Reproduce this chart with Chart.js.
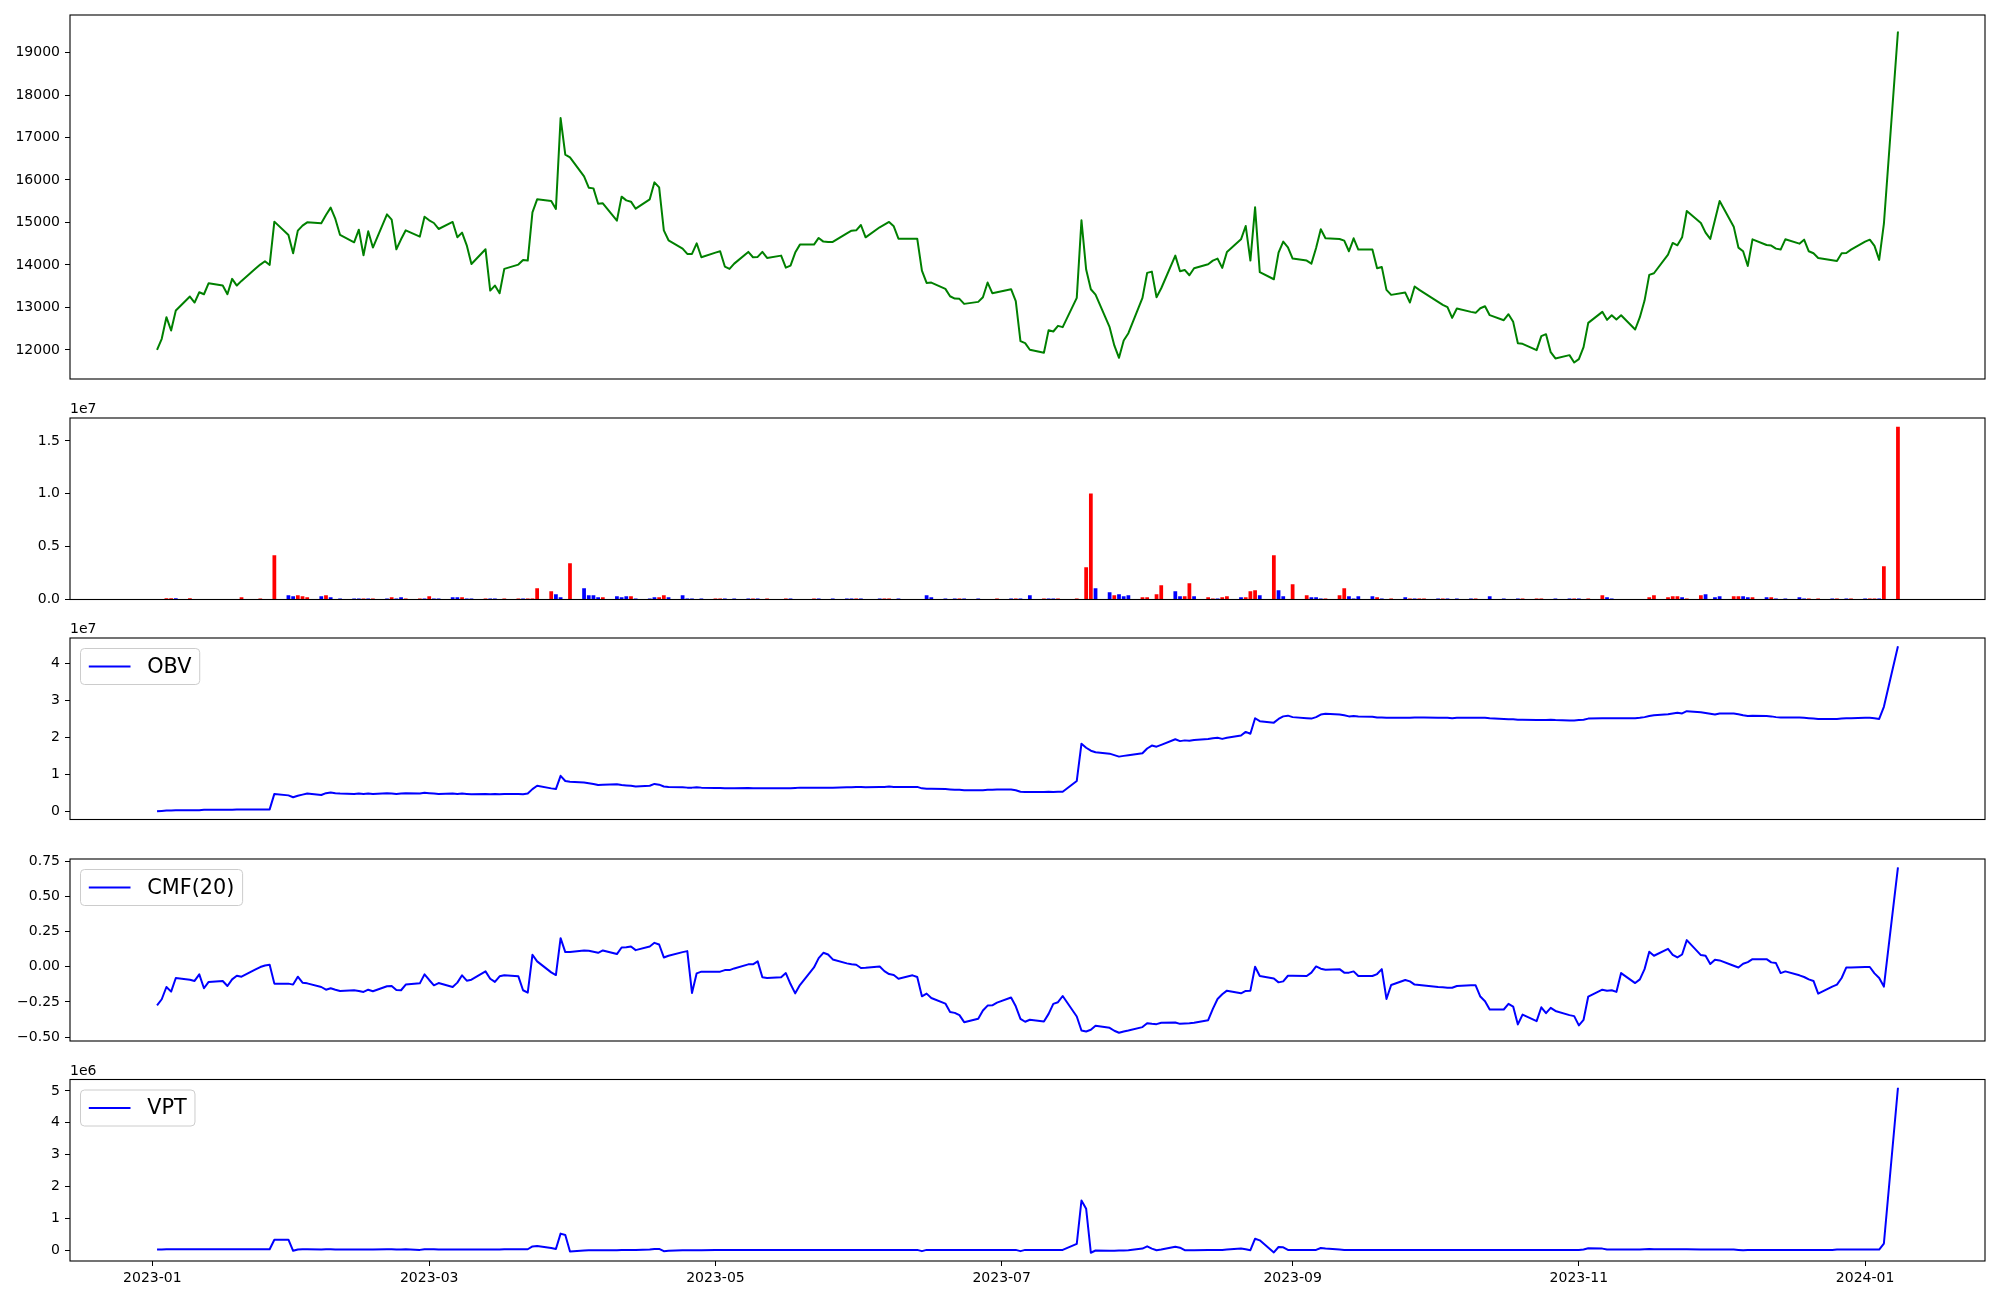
<!DOCTYPE html>
<html><head><meta charset="utf-8">
<script src="https://cdn.jsdelivr.net/npm/chart.js@4.4.1/dist/chart.umd.min.js"></script>
<style>
html,body{margin:0;padding:0;background:#fff;width:2000px;height:1300px;overflow:hidden;position:relative}
canvas{display:block}
</style></head><body>
<canvas id="c1"></canvas><canvas id="c2"></canvas><canvas id="c3"></canvas><canvas id="c4"></canvas><canvas id="c5"></canvas>
<script>
const dates = [
"2023-01-02","2023-01-03","2023-01-04","2023-01-05","2023-01-06","2023-01-09","2023-01-10","2023-01-11","2023-01-12","2023-01-13","2023-01-16","2023-01-17","2023-01-18","2023-01-19","2023-01-20","2023-01-23","2023-01-24","2023-01-25","2023-01-26","2023-01-27","2023-01-30","2023-01-31",
"2023-02-01","2023-02-02","2023-02-03","2023-02-06","2023-02-07","2023-02-08","2023-02-09","2023-02-10","2023-02-13","2023-02-14","2023-02-15","2023-02-16","2023-02-17","2023-02-20","2023-02-21","2023-02-22","2023-02-23","2023-02-24","2023-02-27","2023-02-28",
"2023-03-01","2023-03-02","2023-03-03","2023-03-06","2023-03-07","2023-03-08","2023-03-09","2023-03-10","2023-03-13","2023-03-14","2023-03-15","2023-03-16","2023-03-17","2023-03-20","2023-03-21","2023-03-22","2023-03-23","2023-03-24","2023-03-27","2023-03-28","2023-03-29","2023-03-30","2023-03-31",
"2023-04-03","2023-04-04","2023-04-05","2023-04-06","2023-04-07","2023-04-10","2023-04-11","2023-04-12","2023-04-13","2023-04-14","2023-04-17","2023-04-18","2023-04-19","2023-04-20","2023-04-21","2023-04-24","2023-04-25","2023-04-26","2023-04-27","2023-04-28",
"2023-05-01","2023-05-02","2023-05-03","2023-05-04","2023-05-05","2023-05-08","2023-05-09","2023-05-10","2023-05-11","2023-05-12","2023-05-15","2023-05-16","2023-05-17","2023-05-18","2023-05-19","2023-05-22","2023-05-23","2023-05-24","2023-05-25","2023-05-26","2023-05-29","2023-05-30","2023-05-31",
"2023-06-01","2023-06-02","2023-06-05","2023-06-06","2023-06-07","2023-06-08","2023-06-09","2023-06-12","2023-06-13","2023-06-14","2023-06-15","2023-06-16","2023-06-19","2023-06-20","2023-06-21","2023-06-22","2023-06-23","2023-06-26","2023-06-27","2023-06-28","2023-06-29","2023-06-30",
"2023-07-03","2023-07-04","2023-07-05","2023-07-06","2023-07-07","2023-07-10","2023-07-11","2023-07-12","2023-07-13","2023-07-14","2023-07-17","2023-07-18","2023-07-19","2023-07-20","2023-07-21","2023-07-24","2023-07-25","2023-07-26","2023-07-27","2023-07-28","2023-07-31",
"2023-08-01","2023-08-02","2023-08-03","2023-08-04","2023-08-07","2023-08-08","2023-08-09","2023-08-10","2023-08-11","2023-08-14","2023-08-15","2023-08-16","2023-08-17","2023-08-18","2023-08-21","2023-08-22","2023-08-23","2023-08-24","2023-08-25","2023-08-28","2023-08-29","2023-08-30","2023-08-31",
"2023-09-01","2023-09-04","2023-09-05","2023-09-06","2023-09-07","2023-09-08","2023-09-11","2023-09-12","2023-09-13","2023-09-14","2023-09-15","2023-09-18","2023-09-19","2023-09-20","2023-09-21","2023-09-22","2023-09-25","2023-09-26","2023-09-27","2023-09-28","2023-09-29",
"2023-10-02","2023-10-03","2023-10-04","2023-10-05","2023-10-06","2023-10-09","2023-10-10","2023-10-11","2023-10-12","2023-10-13","2023-10-16","2023-10-17","2023-10-18","2023-10-19","2023-10-20","2023-10-23","2023-10-24","2023-10-25","2023-10-26","2023-10-27","2023-10-30","2023-10-31",
"2023-11-01","2023-11-02","2023-11-03","2023-11-06","2023-11-07","2023-11-08","2023-11-09","2023-11-10","2023-11-13","2023-11-14","2023-11-15","2023-11-16","2023-11-17","2023-11-20","2023-11-21","2023-11-22","2023-11-23","2023-11-24","2023-11-27","2023-11-28","2023-11-29","2023-11-30",
"2023-12-01","2023-12-04","2023-12-05","2023-12-06","2023-12-07","2023-12-08","2023-12-11","2023-12-12","2023-12-13","2023-12-14","2023-12-15","2023-12-18","2023-12-19","2023-12-20","2023-12-21","2023-12-22","2023-12-25","2023-12-26","2023-12-27","2023-12-28","2023-12-29",
"2024-01-01","2024-01-02","2024-01-03","2024-01-04","2024-01-05","2024-01-08"];

const price = [
12000,12260,12770,12456,12926,13256,13114,13357,13310,13569,13514,13310,13671,13514,13624,13914,14008,14086,14000,15019,14705,14274,
14807,14925,15003,14980,15176,15348,15082,14705,14533,14830,14227,14791,14408,15190,15066,14368,14603,14815,14666,15136,
15050,14987,14846,15011,14650,14760,14462,14023,14368,13396,13514,13334,13906,14008,14117,14102,15238,15544,15505,15317,17456,16594,16531,
16085,15818,15802,15442,15450,15042,15607,15520,15489,15324,15544,15944,15826,14815,14580,14384,14259,14259,14509,14180,
14290,14321,13961,13906,14031,14306,14180,14188,14306,14165,14219,13937,13984,14290,14478,14478,14635,14549,14541,14541,14745,14807,14815,
14940,14650,14886,14948,15011,14909,14619,14619,14619,13867,13577,13585,13436,13263,13208,13201,13083,13130,13240,13585,13334,13357,
13428,13146,12205,12158,12002,11931,12464,12433,12566,12535,13224,15050,13890,13428,13302,12535,12104,11814,12221,12393,13224,
13812,13843,13240,13451,14219,13851,13882,13757,13922,14016,14102,14149,13930,14306,14603,14917,14102,15356,13828,13663,14290,14549,14415,
14149,14102,14031,14400,14839,14627,14611,14572,14322,14627,14361,14361,13922,13953,13412,13295,13349,13114,13491,13412,13342,
13130,13060,13005,12754,12973,12895,12872,12981,13028,12817,12699,12840,12660,12158,12142,11994,12323,12370,11947,11798,11876,11704,
11782,12064,12636,12895,12707,12816,12715,12816,12480,12770,13161,13765,13804,14243,14517,14462,14650,15270,14987,14760,14611,15058,
15505,14901,14408,14321,13976,14603,14470,14455,14384,14361,14603,14501,14595,14321,14274,14165,14110,14094,14274,14282,14361,
14549,14595,14447,14118,14964,19494];

// volume per date (shares) and bar direction (1 = red/up, 0 = blue/down)
const volume = [
0,0,0.12e6,0.12e6,0.12e6,0.12e6,0,0,0,0,0,0,0,0,0.22e6,0,0.1e6,0,0,4.18e6,0.41e6,0.31e6,
0.41e6,0.31e6,0.22e6,0.31e6,0.41e6,0.22e6,0,0.1e6,0.1e6,0.1e6,0.1e6,0.1e6,0.1e6,0.1e6,0.22e6,0.1e6,0.22e6,0.1e6,0.1e6,0.1e6,
0.31e6,0.1e6,0.1e6,0.22e6,0.22e6,0.22e6,0.1e6,0.1e6,0.1e6,0.1e6,0.1e6,0,0.1e6,0.1e6,0.1e6,0.1e6,0.1e6,1.07e6,0.79e6,0.5e6,0.22e6,0,3.43e6,
1.07e6,0.41e6,0.41e6,0.22e6,0.22e6,0.31e6,0.22e6,0.31e6,0.31e6,0.1e6,0.1e6,0.22e6,0.22e6,0.41e6,0.22e6,0.41e6,0.1e6,0.1e6,0,0.1e6,
0.1e6,0.1e6,0.1e6,0,0.1e6,0.1e6,0.1e6,0.1e6,0,0.1e6,0,0.1e6,0.1e6,0,0,0.1e6,0.1e6,0,0,0.1e6,0.1e6,0.1e6,0.1e6,
0.1e6,0,0.1e6,0.1e6,0.1e6,0,0.1e6,0,0,0,0.41e6,0.22e6,0.1e6,0,0.1e6,0.1e6,0.1e6,0.1e6,0,0,0,0.1e6,
0.1e6,0.1e6,0.1e6,0,0.41e6,0.1e6,0.1e6,0.1e6,0.1e6,0,0.1e6,0,3.05e6,10.03e6,1.07e6,0.69e6,0.41e6,0.5e6,0.31e6,0.41e6,0.22e6,
0.22e6,0,0.5e6,1.35e6,0.79e6,0.31e6,0.31e6,1.54e6,0.31e6,0.22e6,0.1e6,0.1e6,0.22e6,0.31e6,0.22e6,0.22e6,0.79e6,0.88e6,0.41e6,4.18e6,0.88e6,0.31e6,0,
1.45e6,0.41e6,0.22e6,0.22e6,0.1e6,0.1e6,0.41e6,1.07e6,0.31e6,0.1e6,0.31e6,0.31e6,0.22e6,0.1e6,0,0.1e6,0.22e6,0.1e6,0.1e6,0.1e6,0.1e6,
0.1e6,0.1e6,0.1e6,0,0.1e6,0.1e6,0.1e6,0,0,0.31e6,0.1e6,0,0,0.1e6,0.1e6,0.1e6,0.1e6,0,0,0.1e6,0.1e6,0.1e6,
0.1e6,0,0.1e6,0.41e6,0.22e6,0.1e6,0,0,0,0,0,0.22e6,0.41e6,0.22e6,0.31e6,0.31e6,0.22e6,0.1e6,0.41e6,0.5e6,0,0.22e6,
0.31e6,0.31e6,0.31e6,0.31e6,0.22e6,0.22e6,0.22e6,0.22e6,0.1e6,0,0.1e6,0.22e6,0.1e6,0.1e6,0,0.1e6,0.1e6,0.1e6,0,0.1e6,0.1e6,
0.1e6,0.1e6,0.1e6,0.1e6,3.15e6,16.35e6];
const volUp = [
1,1,1,1,0,1,1,1,1,1,1,1,1,1,1,1,1,1,1,1,0,0,
1,1,1,0,1,0,0,0,0,0,1,0,1,0,1,0,0,1,1,0,
1,0,0,0,0,1,0,0,1,0,0,1,1,1,0,1,1,1,1,0,0,1,1,
0,0,0,0,1,0,0,0,1,0,0,0,1,1,0,0,0,0,1,0,
1,1,0,1,0,0,1,0,1,1,1,1,0,1,1,1,0,1,1,0,0,0,1,
0,1,0,1,1,1,0,1,1,1,0,0,0,1,0,1,0,0,1,1,1,1,
0,1,0,1,0,1,0,0,1,1,1,1,1,1,0,0,1,0,0,0,1,
1,1,1,1,0,0,1,1,0,1,1,0,1,1,0,1,1,1,0,1,0,0,1,
1,1,0,0,0,1,1,1,0,0,0,0,1,0,1,1,0,1,0,1,1,
0,1,0,1,0,0,1,1,1,0,0,1,1,0,1,1,1,1,1,0,0,1,
0,1,1,1,0,0,1,1,1,1,1,1,1,1,1,1,0,1,1,0,1,0,
0,1,1,0,0,1,0,1,0,1,0,0,0,1,1,1,0,1,1,0,1,
0,1,1,0,1,1];

const obv = [
0.00e7,0.01e7,0.02e7,0.02e7,0.03e7,0.03e7,0.03e7,0.03e7,0.04e7,0.04e7,0.04e7,0.04e7,0.04e7,0.05e7,0.05e7,0.05e7,0.05e7,0.05e7,0.05e7,0.47e7,0.43e7,0.38e7,
0.42e7,0.45e7,0.48e7,0.44e7,0.49e7,0.51e7,0.49e7,0.48e7,0.47e7,0.48e7,0.47e7,0.48e7,0.47e7,0.49e7,0.48e7,0.47e7,0.48e7,0.49e7,0.48e7,0.50e7,
0.49e7,0.48e7,0.47e7,0.48e7,0.47e7,0.48e7,0.47e7,0.46e7,0.47e7,0.46e7,0.47e7,0.46e7,0.47e7,0.47e7,0.46e7,0.48e7,0.60e7,0.69e7,0.62e7,0.60e7,0.96e7,0.82e7,0.80e7,
0.78e7,0.76e7,0.74e7,0.71e7,0.72e7,0.73e7,0.71e7,0.70e7,0.69e7,0.67e7,0.69e7,0.74e7,0.72e7,0.67e7,0.66e7,0.65e7,0.64e7,0.64e7,0.65e7,0.64e7,
0.63e7,0.63e7,0.62e7,0.62e7,0.62e7,0.63e7,0.62e7,0.62e7,0.62e7,0.62e7,0.62e7,0.62e7,0.62e7,0.63e7,0.64e7,0.64e7,0.64e7,0.64e7,0.64e7,0.64e7,0.65e7,0.65e7,0.66e7,
0.66e7,0.65e7,0.66e7,0.66e7,0.67e7,0.66e7,0.66e7,0.66e7,0.66e7,0.62e7,0.61e7,0.61e7,0.60e7,0.59e7,0.58e7,0.58e7,0.57e7,0.57e7,0.57e7,0.58e7,0.58e7,0.59e7,
0.59e7,0.57e7,0.53e7,0.52e7,0.52e7,0.52e7,0.53e7,0.52e7,0.53e7,0.53e7,0.82e7,1.83e7,1.72e7,1.64e7,1.60e7,1.56e7,1.52e7,1.48e7,1.50e7,1.52e7,1.57e7,
1.70e7,1.78e7,1.75e7,1.80e7,1.95e7,1.90e7,1.92e7,1.91e7,1.93e7,1.96e7,1.98e7,1.99e7,1.96e7,1.99e7,2.05e7,2.15e7,2.10e7,2.52e7,2.44e7,2.40e7,2.50e7,2.57e7,2.59e7,
2.55e7,2.52e7,2.51e7,2.55e7,2.62e7,2.64e7,2.62e7,2.60e7,2.57e7,2.58e7,2.57e7,2.56e7,2.54e7,2.54e7,2.53e7,2.53e7,2.53e7,2.53e7,2.54e7,2.54e7,2.54e7,
2.53e7,2.53e7,2.53e7,2.52e7,2.53e7,2.53e7,2.53e7,2.53e7,2.53e7,2.52e7,2.50e7,2.49e7,2.49e7,2.48e7,2.48e7,2.47e7,2.47e7,2.47e7,2.48e7,2.47e7,2.46e7,2.46e7,
2.47e7,2.48e7,2.51e7,2.52e7,2.52e7,2.52e7,2.52e7,2.52e7,2.52e7,2.53e7,2.55e7,2.58e7,2.60e7,2.63e7,2.65e7,2.67e7,2.65e7,2.71e7,2.68e7,2.66e7,2.64e7,2.62e7,
2.65e7,2.65e7,2.63e7,2.60e7,2.58e7,2.59e7,2.58e7,2.57e7,2.55e7,2.54e7,2.54e7,2.54e7,2.53e7,2.52e7,2.51e7,2.50e7,2.50e7,2.50e7,2.51e7,2.52e7,2.52e7,
2.53e7,2.53e7,2.52e7,2.50e7,2.83e7,4.47e7];

const cmf = [
-0.274,-0.231,-0.144,-0.177,-0.080,-0.092,-0.101,-0.054,-0.153,-0.108,-0.101,-0.137,-0.090,-0.064,-0.071,-0.019,-0.002,0.009,0.014,-0.120,-0.120,-0.127,
-0.071,-0.113,-0.118,-0.144,-0.163,-0.153,-0.163,-0.172,-0.167,-0.172,-0.179,-0.163,-0.174,-0.139,-0.137,-0.165,-0.167,-0.127,-0.118,-0.054,
-0.094,-0.132,-0.116,-0.144,-0.113,-0.061,-0.099,-0.092,-0.033,-0.085,-0.108,-0.068,-0.061,-0.068,-0.167,-0.184,0.085,0.038,-0.040,-0.059,0.203,0.104,0.104,
0.116,0.113,0.106,0.099,0.116,0.090,0.137,0.139,0.144,0.118,0.144,0.170,0.158,0.066,0.078,0.104,0.111,-0.186,-0.047,-0.035,
-0.035,-0.035,-0.024,-0.024,-0.012,0.017,0.017,0.038,-0.075,-0.080,-0.075,-0.045,-0.123,-0.189,-0.130,-0.005,0.061,0.099,0.087,0.052,0.024,0.017,0.014,
-0.009,-0.007,0.002,-0.031,-0.052,-0.059,-0.085,-0.061,-0.073,-0.210,-0.191,-0.222,-0.262,-0.321,-0.328,-0.344,-0.394,-0.370,-0.311,-0.276,-0.274,-0.255,
-0.219,-0.281,-0.370,-0.391,-0.377,-0.389,-0.335,-0.264,-0.252,-0.208,-0.354,-0.453,-0.460,-0.448,-0.420,-0.434,-0.455,-0.469,-0.460,-0.453,-0.429,
-0.401,-0.406,-0.408,-0.398,-0.396,-0.406,-0.403,-0.401,-0.398,-0.380,-0.299,-0.229,-0.196,-0.170,-0.189,-0.172,-0.170,0.000,-0.066,-0.083,-0.111,-0.104,-0.064,
-0.064,-0.066,-0.042,0.002,-0.014,-0.021,-0.017,-0.042,-0.042,-0.033,-0.066,-0.066,-0.052,-0.017,-0.229,-0.130,-0.094,-0.104,-0.127,-0.130,-0.134,
-0.144,-0.146,-0.149,-0.149,-0.137,-0.132,-0.132,-0.212,-0.245,-0.304,-0.304,-0.264,-0.283,-0.410,-0.340,-0.387,-0.288,-0.330,-0.292,-0.314,-0.344,-0.351,
-0.417,-0.377,-0.212,-0.163,-0.170,-0.167,-0.179,-0.045,-0.116,-0.090,-0.017,0.106,0.078,0.127,0.085,0.066,0.087,0.189,0.083,0.078,0.019,0.050,
0.045,0.007,-0.005,0.021,0.033,0.054,0.054,0.031,0.026,-0.045,-0.033,-0.061,-0.073,-0.090,-0.101,-0.191,-0.141,-0.127,-0.080,-0.005,-0.005,
-0.002,-0.002,-0.047,-0.080,-0.141,0.707];

const vpt = [
0.02e6,0.02e6,0.03e6,0.03e6,0.03e6,0.03e6,0.03e6,0.03e6,0.03e6,0.03e6,0.03e6,0.03e6,0.03e6,0.03e6,0.03e6,0.03e6,0.03e6,0.03e6,0.03e6,0.33e6,0.33e6,-0.02e6,
0.02e6,0.03e6,0.03e6,0.02e6,0.03e6,0.03e6,0.02e6,0.02e6,0.02e6,0.02e6,0.02e6,0.02e6,0.02e6,0.03e6,0.03e6,0.02e6,0.02e6,0.03e6,0.01e6,0.03e6,
0.03e6,0.03e6,0.02e6,0.02e6,0.02e6,0.02e6,0.02e6,0.02e6,0.02e6,0.02e6,0.02e6,0.02e6,0.03e6,0.03e6,0.03e6,0.03e6,0.12e6,0.13e6,0.07e6,0.04e6,0.52e6,0.48e6,-0.04e6,
-0.01e6,0.00e6,0.00e6,0.00e6,0.00e6,0.00e6,0.01e6,0.01e6,0.01e6,0.01e6,0.02e6,0.04e6,0.04e6,-0.03e6,-0.02e6,0.00e6,0.00e6,0.00e6,0.00e6,0.00e6,
0.01e6,0.01e6,0.01e6,0.01e6,0.01e6,0.01e6,0.01e6,0.01e6,0.01e6,0.01e6,0.01e6,0.01e6,0.01e6,0.01e6,0.01e6,0.01e6,0.01e6,0.01e6,0.01e6,0.01e6,0.01e6,0.01e6,0.01e6,
0.01e6,0.01e6,0.01e6,0.01e6,0.01e6,0.01e6,0.01e6,0.01e6,0.01e6,-0.03e6,0.01e6,0.01e6,0.01e6,0.01e6,0.01e6,0.01e6,0.01e6,0.01e6,0.01e6,0.01e6,0.01e6,0.01e6,
0.01e6,0.01e6,-0.03e6,0.01e6,0.01e6,0.01e6,0.01e6,0.01e6,0.01e6,0.01e6,0.20e6,1.56e6,1.30e6,-0.08e6,-0.01e6,-0.02e6,-0.02e6,-0.01e6,-0.01e6,0.00e6,0.05e6,
0.12e6,0.05e6,0.00e6,0.02e6,0.11e6,0.08e6,0.00e6,0.00e6,0.00e6,0.01e6,0.01e6,0.01e6,0.01e6,0.02e6,0.05e6,0.03e6,0.00e6,0.36e6,0.31e6,-0.07e6,0.10e6,0.09e6,0.01e6,
0.01e6,0.01e6,0.01e6,0.01e6,0.07e6,0.05e6,0.02e6,0.01e6,0.01e6,0.01e6,0.01e6,0.01e6,0.01e6,0.01e6,0.01e6,0.01e6,0.01e6,0.01e6,0.01e6,0.01e6,0.01e6,
0.01e6,0.01e6,0.01e6,0.01e6,0.01e6,0.01e6,0.01e6,0.01e6,0.01e6,0.01e6,0.01e6,0.01e6,0.01e6,0.01e6,0.01e6,0.01e6,0.01e6,0.01e6,0.01e6,0.01e6,0.01e6,0.01e6,
0.01e6,0.02e6,0.06e6,0.05e6,0.02e6,0.02e6,0.02e6,0.02e6,0.02e6,0.02e6,0.03e6,0.04e6,0.03e6,0.03e6,0.03e6,0.03e6,0.03e6,0.03e6,0.02e6,0.02e6,0.02e6,0.02e6,
0.02e6,0.02e6,0.01e6,0.00e6,0.01e6,0.01e6,0.01e6,0.01e6,0.01e6,0.01e6,0.01e6,0.01e6,0.01e6,0.01e6,0.01e6,0.01e6,0.01e6,0.02e6,0.02e6,0.02e6,0.02e6,
0.02e6,0.02e6,0.02e6,0.02e6,0.21e6,5.10e6];

const xTickDates  = ["2023-01-01","2023-03-01","2023-05-01","2023-07-01","2023-09-01","2023-11-01","2024-01-01"];
const xTickLabels = ["2023-01","2023-03","2023-05","2023-07","2023-09","2023-11","2024-01"];
const priceTicks = [12000,13000,14000,15000,16000,17000,18000,19000];
const priceTickLabels = ["12000","13000","14000","15000","16000","17000","18000","19000"];
const volTicks = [0,0.5e7,1.0e7,1.5e7];
const volTickLabels = ["0.0","0.5","1.0","1.5"];
const obvTicks = [0,1e7,2e7,3e7,4e7];
const obvTickLabels = ["0","1","2","3","4"];
const cmfTicks = [-0.5,-0.25,0,0.25,0.5,0.75];
const cmfTickLabels = ["\u22120.50","\u22120.25","0.00","0.25","0.50","0.75"];
const vptTicks = [0,1e6,2e6,3e6,4e6,5e6];
const vptTickLabels = ["0","1","2","3","4","5"];

const DAY0 = Date.UTC(2023,0,1);
const toDay = s => (Date.UTC(+s.slice(0,4), +s.slice(5,7)-1, +s.slice(8,10)) - DAY0) / 86400000;
const xs = dates.map(toDay);
const xLo = xs[0], xHi = xs[xs.length-1], xM = (xHi - xLo) * 0.05;
function mplRange(arr, zeroBase) {
  const lo = zeroBase ? 0 : Math.min(...arr), hi = Math.max(...arr), m = (hi - lo) * 0.05;
  return [zeroBase ? 0 : lo - m, hi + m];
}
const FONT = '"DejaVu Sans", "Liberation Sans", sans-serif';

const mplPlugin = {
  id: 'mpl',
  afterDraw(chart, args, o) {
    const ctx = chart.ctx, a = chart.chartArea;
    ctx.save();
    ctx.strokeStyle = '#000'; ctx.lineWidth = 1.1;
    ctx.strokeRect(a.left, a.top, a.right - a.left, a.bottom - a.top);
    if (o.offset) {
      ctx.fillStyle = '#000'; ctx.font = '14px ' + FONT;
      ctx.textAlign = 'left'; ctx.textBaseline = 'alphabetic';
      ctx.fillText(o.offset, a.left, a.top - 5);
    }
    if (o.legend) {
      ctx.font = '20.8px ' + FONT;
      const tw = ctx.measureText(o.legend).width;
      const x = a.left + 10.5, y = a.top + 10.5, w = tw + 75, h = 36, r = 4;
      ctx.beginPath();
      ctx.moveTo(x + r, y); ctx.lineTo(x + w - r, y); ctx.arcTo(x + w, y, x + w, y + r, r);
      ctx.lineTo(x + w, y + h - r); ctx.arcTo(x + w, y + h, x + w - r, y + h, r);
      ctx.lineTo(x + r, y + h); ctx.arcTo(x, y + h, x, y + h - r, r);
      ctx.lineTo(x, y + r); ctx.arcTo(x, y, x + r, y, r); ctx.closePath();
      ctx.fillStyle = 'rgba(255,255,255,0.8)'; ctx.fill();
      ctx.strokeStyle = '#cccccc'; ctx.lineWidth = 1; ctx.stroke();
      ctx.beginPath(); ctx.moveTo(x + 8.3, y + h / 2); ctx.lineTo(x + 50, y + h / 2);
      ctx.strokeStyle = o.color; ctx.lineWidth = 2; ctx.stroke();
      ctx.fillStyle = '#000'; ctx.textAlign = 'left'; ctx.textBaseline = 'middle';
      ctx.fillText(o.legend, x + 66.7, y + h / 2 + 1);
    }
    ctx.restore();
  }
};

function build(p) {
  const cv = document.getElementById(p.id);
  const xAxisH = p.showX ? 40 : 0;
  const ct = Math.floor(p.top) - 25;
  const h = Math.ceil(p.bottom) + xAxisH + 15 - ct;
  cv.width = 2000; cv.height = h;
  cv.style.cssText = 'position:absolute;left:0;top:' + ct + 'px;width:2000px;height:' + h + 'px';
  const padTop = p.top - ct;
  const padBottom = (ct + h) - p.bottom - xAxisH;
  const tickGrid = { drawOnChartArea: false, drawTicks: true, tickLength: 5, color: '#000', lineWidth: 1 };
  const tickFont = { family: FONT, size: 14 };
  const xOpts = {
    type: 'linear', min: xLo - xM, max: xHi + xM, offset: false, display: !!p.showX,
    afterBuildTicks: s => { s.ticks = xTickDates.map(d => ({ value: toDay(d) })); },
    ticks: { callback: (v, i) => xTickLabels[i], font: tickFont, color: '#000', padding: 4, maxRotation: 0, autoSkip: false },
    grid: tickGrid, border: { display: false }
  };
  if (p.showX) xOpts.afterFit = s => { s.height = xAxisH; };
  new Chart(cv.getContext('2d'), {
    type: p.type,
    data: { datasets: [p.dataset] },
    options: {
      responsive: false, animation: false, devicePixelRatio: 1,
      layout: { padding: { top: padTop, bottom: padBottom, left: 0, right: 15 } },
      plugins: { legend: { display: false }, tooltip: { enabled: false },
        mpl: { offset: p.offset || '', legend: p.legend || '', color: '#0000ff' } },
      scales: {
        x: xOpts,
        y: {
          type: 'linear', min: p.range[0], max: p.range[1],
          afterBuildTicks: s => { s.ticks = p.ticks.map(v => ({ value: v })); },
          afterFit: s => { s.width = 70; },
          ticks: { callback: (v, i) => p.labels[i], font: tickFont, color: '#000', padding: 5, autoSkip: false },
          grid: tickGrid, border: { display: false }
        }
      }
    },
    plugins: [mplPlugin]
  });
}

const pts = arr => xs.map((x, i) => ({ x: x, y: arr[i] }));
const lineDs = (arr, color) => ({ type: 'line', data: pts(arr), borderColor: color, borderWidth: 2,
  pointRadius: 0, tension: 0, fill: false, borderJoinStyle: 'round' });

build({ id: 'c1', top: 15, bottom: 379, type: 'line', dataset: lineDs(price, '#008000'),
  range: mplRange(price), ticks: priceTicks, labels: priceTickLabels });
build({ id: 'c2', top: 418, bottom: 599.5, type: 'bar',
  dataset: { type: 'bar', data: pts(volume),
    backgroundColor: volUp.map(u => u ? '#ff0000' : '#0000ff'),
    borderWidth: 0, barPercentage: 0.8, categoryPercentage: 1.0 },
  range: mplRange(volume, true), ticks: volTicks, labels: volTickLabels, offset: '1e7' });
build({ id: 'c3', top: 638, bottom: 819.5, type: 'line', dataset: lineDs(obv, '#0000ff'),
  range: mplRange(obv), ticks: obvTicks, labels: obvTickLabels, offset: '1e7', legend: 'OBV' });
build({ id: 'c4', top: 859, bottom: 1041, type: 'line', dataset: lineDs(cmf, '#0000ff'),
  range: mplRange(cmf), ticks: cmfTicks, labels: cmfTickLabels, legend: 'CMF(20)' });
build({ id: 'c5', top: 1079.5, bottom: 1261, type: 'line', dataset: lineDs(vpt, '#0000ff'),
  range: mplRange(vpt), ticks: vptTicks, labels: vptTickLabels, offset: '1e6', legend: 'VPT', showX: true });
</script>
</body></html>
